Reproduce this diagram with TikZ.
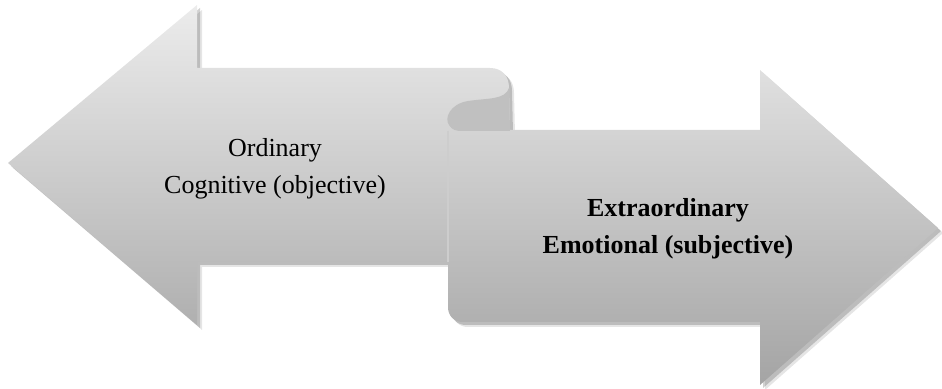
\documentclass[tikz,border=0pt]{standalone}
\usepackage{fontspec}
\setmainfont{Liberation Serif}
\begin{document}
\begin{tikzpicture}[x=0.5pt,y=-0.5pt,
  arrowfill/.style={top color=arrowtop,bottom color=arrowbottom,draw=none},
  shadowfill/.style={fill=black,opacity=0.18,draw=none},
  foldfill/.style={fill=foldgray,draw=none},
  label/.style={align=center,font=\fontsize{13}{18.5}\selectfont,text=black}]
\definecolor{arrowtop}{RGB}{236,236,236}
\definecolor{arrowbottom}{RGB}{164,164,164}
\definecolor{foldgray}{RGB}{192,192,192}
\definecolor{seamgray}{RGB}{205,205,205}
\useasboundingbox (0,0) rectangle (942,389);
% outline of the two opposed arrows joined by a scroll fold
\def\scrollpath{
  (8,163) -- (197,5) -- (197,68) -- (490,68)
  .. controls (502,68) and (509,76) .. (509,88)
  -- (510,130) -- (760,130) -- (760,70) -- (938,228) -- (760,385)
  -- (760,322) -- (463,322) .. controls (454,322) and (448,316) .. (448,307)
  -- (448,262) -- (197,262) -- (197,325) -- cycle}
% soft drop shadow
\fill[shadowfill] [shift={(3,3)}] \scrollpath;
\fill[shadowfill,opacity=0.10] [shift={(5,5)}] \scrollpath;
% body
\path[arrowfill] \scrollpath;
% underside of the fold
\fill[foldfill] (509,88) .. controls (505,100) and (488,98) .. (468,101)
  .. controls (450,104) and (444,118) .. (449,125)
  .. controls (452,130) and (456,131) .. (462,131)
  -- (510,131) -- cycle;
% seam where the right shaft lies over the left one
\draw[seamgray,line width=0.6pt] (448,131) -- (448,262);
% labels
\node[label] (ordinary) at (275,169) {Ordinary\\Cognitive (objective)};
\node[label,font=\fontsize{13}{18.5}\selectfont\bfseries] (extra) at (668,229)
  {Extraordinary\\Emotional (subjective)};
\end{tikzpicture}
\end{document}
